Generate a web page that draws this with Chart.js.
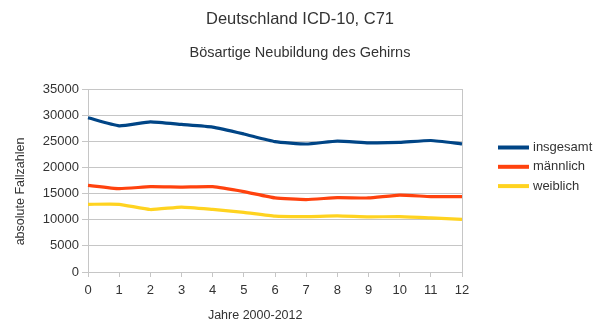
<!DOCTYPE html>
<html>
<head>
<meta charset="utf-8">
<script src="https://cdn.jsdelivr.net/npm/chart.js@4/dist/chart.umd.min.js"></script>
<style>
html,body{margin:0;padding:0;background:#fff;}
#wrap{width:600px;height:328px;position:relative;}
</style>
</head>
<body>
<div id="wrap"><canvas id="c" width="600" height="328"></canvas></div>
<script>
const years = ['0','1','2','3','4','5','6','7','8','9','10','11','12'];
const insgesamt = [29500, 27960, 28720, 28220, 27710, 26400, 24950, 24480, 25040, 24710, 24780, 25150, 24520];
const maennlich = [16580, 15950, 16320, 16250, 16320, 15380, 14180, 13850, 14220, 14160, 14720, 14420, 14420];
const weiblich = [12950, 12950, 11950, 12420, 11960, 11400, 10680, 10600, 10720, 10540, 10600, 10340, 10080];
const yTicks = [0, 5000, 10000, 15000, 20000, 25000, 30000, 35000];
const seriesNames = ['insgesamt', 'männlich', 'weiblich'];
const seriesColors = ['#004586', '#ff420e', '#ffd320'];
const chartTitle = 'Deutschland ICD-10, C71';
const chartSubtitle = 'Bösartige Neubildung des Gehirns';
const xTitle = 'Jahre 2000-2012';
const yTitle = 'absolute Fallzahlen';

const textColor = '#333333';
const gridColor = '#c6c6c6';
const FONT = '"Liberation Sans", Arial, sans-serif';

const extras = {
  id: 'extras',
  afterDraw(chart) {
    const ctx = chart.ctx;
    const area = chart.chartArea;
    ctx.save();
    ctx.fillStyle = textColor;
    ctx.font = '12.5px ' + FONT;
    ctx.textAlign = 'center';
    ctx.textBaseline = 'middle';
    // x axis title
    ctx.fillText(xTitle, area.left + (area.right - area.left) * 0.447, 316);
    // y axis title
    ctx.save();
    ctx.translate(21, area.top + (area.bottom - area.top) * 0.56);
    ctx.rotate(-Math.PI / 2);
    ctx.fillText(yTitle, 0, 0);
    ctx.restore();
    // legend
    ctx.font = '13px ' + FONT;
    ctx.textAlign = 'left';
    chart.data.datasets.forEach((ds, i) => {
      const y = 147.5 + i * 19.3;
      ctx.strokeStyle = ds.borderColor;
      ctx.lineWidth = 4;
      ctx.beginPath();
      ctx.moveTo(498, y);
      ctx.lineTo(529, y);
      ctx.stroke();
      ctx.fillStyle = textColor;
      ctx.fillText(ds.label, 533, y);
    });
    ctx.restore();
  }
};

const datasets = [insgesamt, maennlich, weiblich].map((arr, i) => ({
  label: seriesNames[i],
  data: arr,
  borderColor: seriesColors[i],
  backgroundColor: seriesColors[i],
  borderWidth: 3.2,
  pointRadius: 0,
  tension: 0.15,
  fill: false
}));

new Chart(document.getElementById('c'), {
  type: 'line',
  data: { labels: years, datasets },
  options: {
    responsive: false,
    animation: false,
    devicePixelRatio: 1,
    layout: { padding: 0 },
    plugins: {
      legend: { display: false },
      tooltip: { enabled: false },
      title: {
        display: true, text: chartTitle, color: textColor,
        font: { family: FONT, size: 16.5, weight: 'normal', lineHeight: 1.2 },
        padding: { top: 9.1, bottom: 0 }
      },
      subtitle: {
        display: true, text: chartSubtitle, color: textColor,
        font: { family: FONT, size: 14.5, weight: 'normal', lineHeight: 1.2 },
        padding: { top: 15.4, bottom: 27.3 }
      }
    },
    scales: {
      x: {
        type: 'category',
        offset: false,
        afterFit(scale) { scale.height = 56; },
        border: { display: true, color: gridColor, width: 1 },
        grid: {
          display: true,
          drawOnChartArea: true,
          color: (c) => (c.index === years.length - 1 ? gridColor : 'rgba(0,0,0,0)'),
          tickColor: gridColor,
          tickLength: 5
        },
        ticks: { color: textColor, font: { family: FONT, size: 13 }, padding: 6, maxRotation: 0, autoSkip: false }
      },
      y: {
        min: yTicks[0],
        max: yTicks[yTicks.length - 1],
        afterFit(scale) { scale.width = 88; },
        afterBuildTicks(scale) { scale.ticks = yTicks.map(v => ({ value: v })); },
        border: { display: true, color: gridColor, width: 1 },
        grid: { color: gridColor, tickColor: gridColor, tickLength: 6 },
        ticks: { color: textColor, font: { family: FONT, size: 13 }, padding: 3, callback: (v) => String(v) }
      },
      legendSpace: {
        type: 'linear',
        position: 'right',
        display: true,
        afterFit(scale) { scale.width = 138; },
        border: { display: false },
        grid: { display: false, drawOnChartArea: false },
        ticks: { display: false }
      }
    }
  },
  plugins: [extras]
});
</script>
</body>
</html>
